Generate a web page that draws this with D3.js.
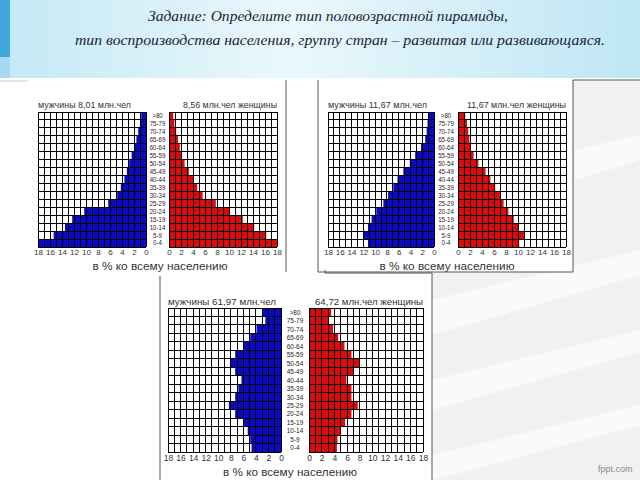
<!DOCTYPE html>
<html><head><meta charset="utf-8">
<script src="https://cdn.jsdelivr.net/npm/d3@7"></script>
<style>html,body{margin:0;padding:0;background:#fff;overflow:hidden}</style>
</head><body>
<svg id="c" width="640" height="480"></svg>
<script>
// ---------- DATA ----------
const ageGroups = [">80","75-79","70-74","65-69","60-64","55-59","50-54","45-49","40-44","35-39","30-34","25-29","20-24","15-19","10-14","5-9","0-4"];
const tickValues = [0,2,4,6,8,10,12,14,16,18];
const titleLines = ["Задание: Определите тип половозрастной пирамиды,",
                    "тип воспроизводства населения, группу стран – развитая или развивающаяся."];
const captionText = "в % ко всему населению";

const p1Titles = ["мужчины 8,01 млн.чел", "8,56 млн.чел женщины"];
const p1Male   = [0.8,1.0,1.3,1.6,2.0,2.4,2.8,3.2,3.6,4.2,4.8,6.3,10.3,12.3,13.5,15.4,18];
const p1Female = [0.7,0.9,1.2,1.5,1.8,2.1,2.6,3.3,4.0,4.7,5.6,7.8,10.0,12.3,14.2,16.2,18];

const p2Titles = ["мужчины 11,67 млн.чел", "11,67 млн.чел женщины"];
const p2Male   = [1.0,1.1,1.25,1.5,2.2,3.2,4.1,5.2,6.2,6.9,7.8,8.6,9.8,10.6,11.2,12.0,11.2];
const p2Female = [1.2,1.5,1.7,1.9,2.1,2.6,3.4,4.6,5.4,6.2,7.1,7.6,8.4,9.3,10.1,11.1,10.2];

const p3Titles = ["мужчины 61,97 млн.чел", "64,72 млн.чел женщины"];
const p3Male   = [3.0,2.5,3.9,4.9,6.0,7.3,8.1,7.3,6.3,6.8,7.3,8.3,7.3,6.0,5.3,4.9,4.7];
const p3Female = [3.5,3.0,3.8,4.6,5.6,6.7,7.9,7.1,5.9,6.7,6.7,7.7,6.7,5.7,4.9,4.5,4.4];

// ---------- LAYOUT ----------
const svg = d3.select("#c");
const defs = svg.append("defs");
const g1 = defs.append("linearGradient").attr("id","ban").attr("x1","0").attr("x2","1").attr("y1","0").attr("y2","0");
g1.append("stop").attr("offset","0").attr("stop-color","#c4e8f5");
g1.append("stop").attr("offset","0.45").attr("stop-color","#eaf8fc");
g1.append("stop").attr("offset","1").attr("stop-color","#bfe6f4");

// background decoration (right side)
svg.append("rect").attr("x",432).attr("y",80).attr("width",208).attr("height",400).attr("fill","#f1f1f1");
const deco = [
  [[432,300],[640,250],[640,275],[432,335]],
  [[432,380],[640,330],[640,352],[432,410]],
  [[432,455],[640,405],[640,425],[432,480]],
  [[575,150],[640,135],[640,160],[575,180]]
];
deco.forEach(p=>svg.append("polygon").attr("points",p.map(q=>q.join(",")).join(" ")).attr("fill","#fafafa"));

// banner
svg.append("rect").attr("x",0).attr("y",0).attr("width",640).attr("height",78).attr("fill","url(#ban)");
svg.append("rect").attr("x",0).attr("y",0).attr("width",10).attr("height",57).attr("fill","#43a6dc");
svg.append("rect").attr("x",0).attr("y",57).attr("width",10).attr("height",21).attr("fill","#a7d9f0");
svg.append("line").attr("x1",0).attr("x2",28).attr("y1",81).attr("y2",81).attr("stroke","#c8c8c8");

const tfont = "'Liberation Serif','DejaVu Serif',serif";
svg.append("text").attr("x",148).attr("y",21).attr("textLength",360).attr("lengthAdjust","spacingAndGlyphs")
  .attr("font-family",tfont).attr("font-style","italic").attr("font-size",15).attr("fill","#1c1c3c").text(titleLines[0]);
svg.append("text").attr("x",75).attr("y",45).attr("textLength",530).attr("lengthAdjust","spacingAndGlyphs")
  .attr("font-family",tfont).attr("font-style","italic").attr("font-size",15).attr("fill","#1c1c3c").text(titleLines[1]);

// panel frames
const frame = (pts)=>svg.append("polyline").attr("points",pts.map(q=>q.join(",")).join(" ")).attr("fill","none").attr("stroke","#555").attr("stroke-width",1);
svg.append("rect").attr("x",30).attr("y",80).attr("width",256).attr("height",192).attr("fill","#fff");
svg.append("rect").attr("x",318).attr("y",80).attr("width",255).attr("height",192).attr("fill","#fff");
svg.append("rect").attr("x",160).attr("y",273).attr("width",272).attr("height",207).attr("fill","#fff");
frame([[286,80],[286,272]]);
frame([[318,80],[318,272],[573,272],[573,80],[640,80]]);
frame([[160,480],[160,276]]);
frame([[325,270],[325,273],[432,273],[432,480]]);

const sans = "'Liberation Sans',Arial,sans-serif";

function pyramid(cfg, titles, male, female){
  const xL = d3.scaleLinear().domain([18,0]).range([cfg.l0,cfg.l1]);
  const xR = d3.scaleLinear().domain([0,18]).range([cfg.r0,cfg.r1]);
  const y = d3.scaleBand().domain(ageGroups).range([cfg.top,cfg.bottom]).padding(0);
  const g = svg.append("g");
  // bars
  g.selectAll(".m").data(male).join("rect")
    .attr("x",d=>xL(d)).attr("width",d=>xL(0)-xL(d))
    .attr("y",(d,i)=>y(ageGroups[i])).attr("height",y.bandwidth())
    .attr("fill","#0a0ac4");
  g.selectAll(".f").data(female).join("rect")
    .attr("x",xR(0)).attr("width",d=>xR(d)-xR(0))
    .attr("y",(d,i)=>y(ageGroups[i])).attr("height",y.bandwidth())
    .attr("fill","#dc0a0a");
  // grid
  const units = d3.range(0,19);
  [xL,xR].forEach(sc=>{
    g.selectAll(null).data(units).join("line")
      .attr("x1",d=>sc(d)).attr("x2",d=>sc(d)).attr("y1",cfg.top).attr("y2",cfg.bottom)
      .attr("stroke","#000").attr("stroke-width",1).attr("shape-rendering","crispEdges");
    const rows = ageGroups.map(a=>y(a)).concat([cfg.bottom]);
    g.selectAll(null).data(rows).join("line")
      .attr("x1",sc.range()[0]).attr("x2",sc.range()[1]).attr("y1",d=>d).attr("y2",d=>d)
      .attr("stroke","#000").attr("stroke-width",1).attr("shape-rendering","crispEdges");
  });
  // age labels
  g.selectAll(".age").data(ageGroups).join("text")
    .attr("transform",a=>`translate(${cfg.ageX},${y(a)+y.bandwidth()/2+cfg.ageFs*0.36}) scale(0.9,1)`)
    .attr("text-anchor","middle").attr("font-family",sans).attr("font-size",cfg.ageFs)
    .attr("fill","#222").text(a=>a);
  // axes
  [xL,xR].forEach(sc=>{
    const ax = svg.append("g").attr("transform",`translate(0,${cfg.tickY})`)
      .call(d3.axisBottom(sc).tickValues(tickValues).tickSize(0).tickPadding(0));
    ax.select(".domain").remove();
    ax.selectAll("text").attr("font-family",sans).attr("font-size",cfg.tickFs).attr("fill","#333").attr("dy","0.35em");
  });
  // titles
  svg.append("text").attr("x",cfg.l0).attr("y",cfg.titleY).attr("textLength",cfg.tw[0]).attr("lengthAdjust","spacingAndGlyphs")
    .attr("font-family",sans).attr("font-size",cfg.titleFs).attr("fill","#333").text(titles[0]);
  svg.append("text").attr("x",cfg.r1).attr("y",cfg.titleY).attr("text-anchor","end").attr("textLength",cfg.tw[1]).attr("lengthAdjust","spacingAndGlyphs")
    .attr("font-family",sans).attr("font-size",cfg.titleFs).attr("fill","#333").text(titles[1]);
  // caption
  svg.append("text").attr("x",cfg.capX).attr("y",cfg.capY).attr("text-anchor","middle")
    .attr("textLength",cfg.capW).attr("lengthAdjust","spacingAndGlyphs")
    .attr("font-family",sans).attr("font-size",cfg.capFs).attr("fill","#333").attr("dy","0.35em").text(captionText);
}

pyramid({l0:38,l1:146,r0:169,r1:277,top:112,bottom:247,ageX:157.5,ageFs:6.8,tickY:252,tickFs:8,
         titleY:108,titleFs:8.5,tw:[93,94],capX:160,capY:266,capW:135,capFs:10.5}, p1Titles, p1Male, p1Female);
pyramid({l0:328,l1:434,r0:458,r1:566,top:112,bottom:247,ageX:446,ageFs:6.8,tickY:252,tickFs:8,
         titleY:108,titleFs:8.5,tw:[99,99],capX:447,capY:266,capW:135,capFs:10.5}, p2Titles, p2Male, p2Female);
pyramid({l0:168,l1:281,r0:309,r1:423,top:308,bottom:452,ageX:295,ageFs:7.2,tickY:458,tickFs:8.5,
         titleY:305,titleFs:9,tw:[108,108],capX:290,capY:472,capW:134,capFs:11}, p3Titles, p3Male, p3Female);

svg.append("text").attr("x",598).attr("y",472).attr("font-family",sans).attr("font-size",9).attr("fill","#8a8a8a").text("fppt.com");
</script>
</body></html>
